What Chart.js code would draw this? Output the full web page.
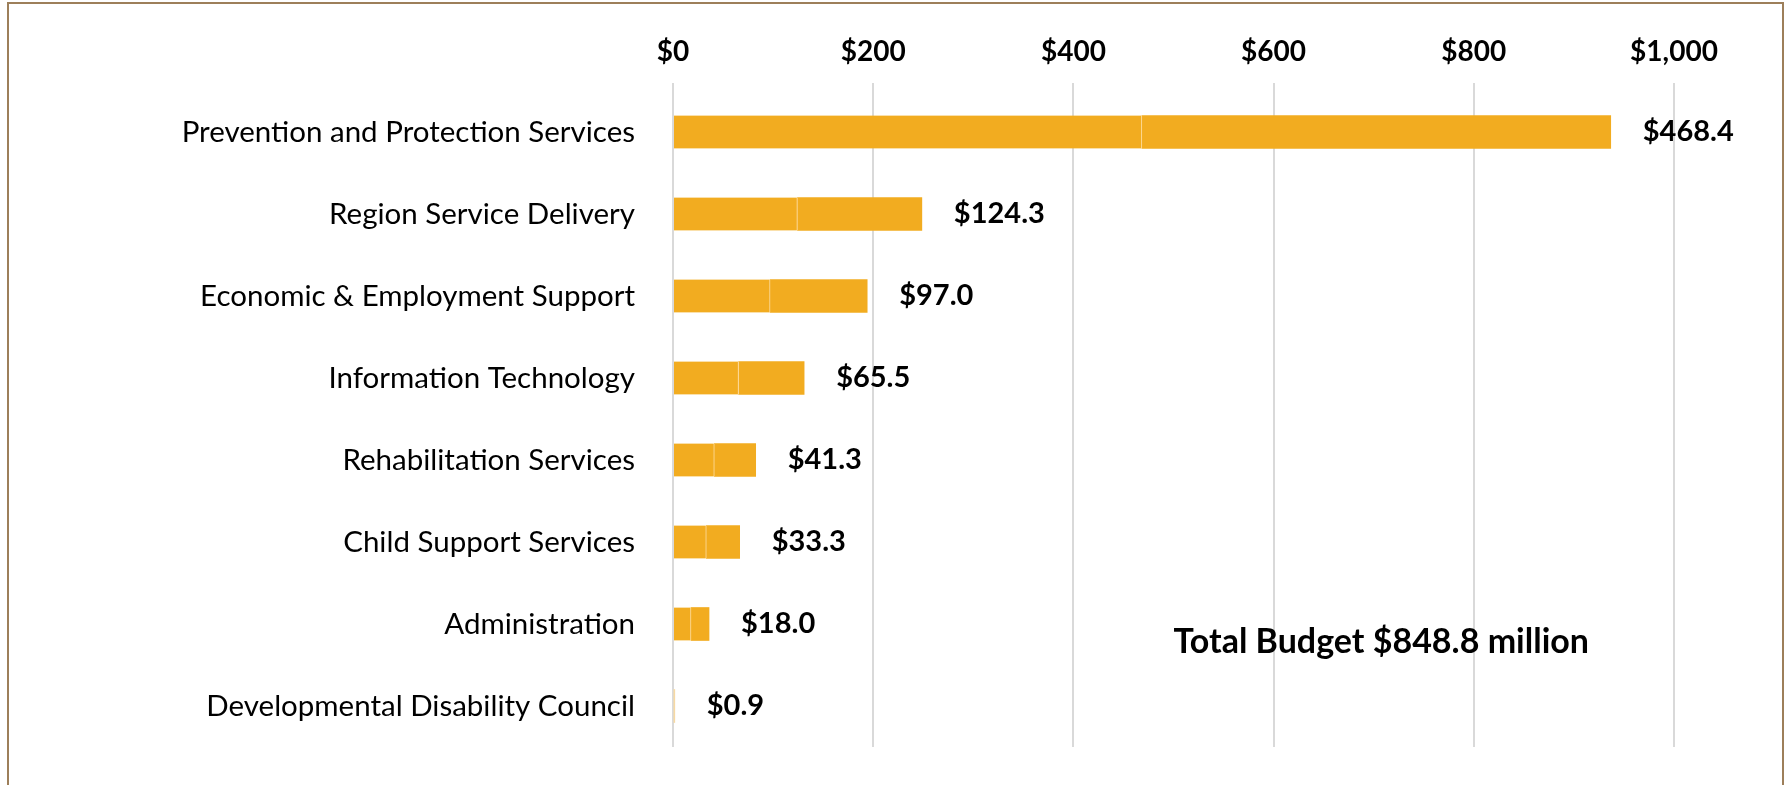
<!DOCTYPE html>
<html>
<head>
<meta charset="utf-8">
<script src="https://cdn.jsdelivr.net/npm/chart.js@4"></script>
<style>
  html, body { margin: 0; padding: 0; background: #fff; }
  #wrap { position: relative; width: 1789px; height: 785px; overflow: hidden; }
  #frame { position: absolute; left: 7px; top: 2px; width: 1777px; height: 800px; border: 2px solid #9d7f5a; box-sizing: border-box; }
  canvas { position: absolute; left: 0; top: 0; }
</style>
</head>
<body>
<div id="wrap">
  <div id="frame"></div>
  <canvas id="chart1" width="1789" height="785"></canvas>
</div>
<script>
const categories = [
    'Prevention and Protection Services',
    'Region Service Delivery',
    'Economic & Employment Support',
    'Information Technology',
    'Rehabilitation Services',
    'Child Support Services',
    'Administration',
    'Developmental Disability Council'
];
// budget in $ millions; each bar is drawn as two equal segments
const budget = [468.4, 124.3, 97.0, 65.5, 41.3, 33.3, 18.0, 0.9];
const tickValues = [0, 200, 400, 600, 800, 1000];
const totalLabel = 'Total Budget $848.8 million';

const FONT = 'Lato, "Open Sans", sans-serif';
const barColors = budget.map(v => v < 5 ? '#f7d9a4' : '#f2ac20');

const valueLabels = {
    id: 'valueLabels',
    afterDatasetsDraw(chart) {
        const ctx = chart.ctx;
        const meta = chart.getDatasetMeta(1);
        ctx.save();
        ctx.font = 'bold 29px ' + FONT;
        ctx.fillStyle = '#000';
        ctx.textAlign = 'left';
        ctx.textBaseline = 'middle';
        meta.data.forEach((bar, i) => {
            ctx.fillText('$' + budget[i].toFixed(1), bar.x + 32, bar.y);
        });
        // total annotation
        const area = chart.chartArea;
        ctx.font = 'bold 34px ' + FONT;
        ctx.fillText(totalLabel, area.left + (area.right - area.left) * 0.5, area.bottom - 105);
        ctx.restore();
    }
};

const ctx1 = document.getElementById('chart1').getContext('2d');
const chart1 = new Chart(ctx1, {
    type: 'bar',
    data: {
        labels: categories,
        datasets: [{
            label: 'First half',
            data: budget,
            backgroundColor: barColors,
            borderColor: 'rgba(255, 225, 170, 0.9)',
            borderWidth: { right: 1, left: 0, top: 0, bottom: 0 },
            borderSkipped: false,
            barThickness: 33
        }, {
            label: 'Second half',
            data: budget,
            backgroundColor: barColors,
            borderWidth: 0,
            barThickness: 33
        }]
    },
    options: {
        indexAxis: 'y',
        responsive: false,
        animation: false,
        layout: { padding: { left: 10, right: 115, top: 0, bottom: 38 } },
        plugins: {
            legend: { display: false },
            tooltip: { enabled: false }
        },
        scales: {
            x: {
                position: 'top',
                stacked: true,
                min: 0,
                max: 1000,
                afterBuildTicks(scale) {
                    scale.ticks = tickValues.map(v => ({ value: v }));
                },
                afterFit(scale) { scale.height = 91; },
                grid: { color: '#d9d9d9', lineWidth: 2, tickLength: 8 },
                border: { display: false },
                ticks: {
                    padding: 14,
                    color: '#000',
                    font: { family: FONT, size: 28, weight: 'bold' },
                    callback: v => '$' + v.toLocaleString('en-US')
                }
            },
            y: {
                stacked: true,
                afterFit(scale) {
                    scale.width = 663;
                    scale.paddingTop = 0;
                    scale.paddingBottom = 0;
                },
                grid: { display: false },
                border: { display: false },
                ticks: {
                    padding: 30,
                    color: '#000',
                    font: { family: FONT, size: 29.5 }
                }
            }
        }
    },
    plugins: [valueLabels]
});
</script>
</body>
</html>
